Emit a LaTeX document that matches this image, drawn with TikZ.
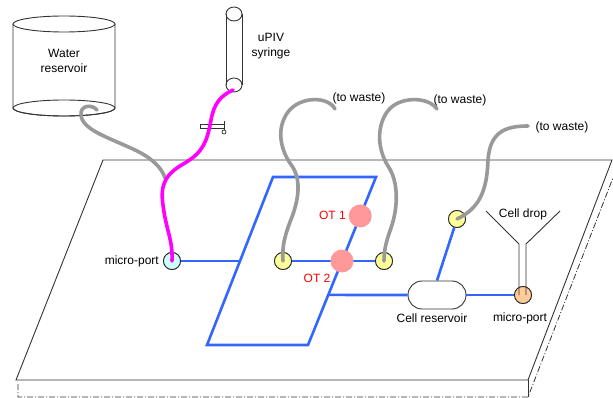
\documentclass[tikz,border=0pt]{standalone}
\usepackage{fontspec}
\setmainfont{Liberation Sans}
\usetikzlibrary{calc}
\definecolor{chan}{RGB}{51,102,255}
\definecolor{tubegray}{RGB}{153,153,153}
\definecolor{feedmag}{RGB}{255,0,255}
\definecolor{otpink}{RGB}{255,153,153}
\definecolor{otred}{RGB}{255,0,0}
\definecolor{portcyan}{RGB}{204,255,255}
\definecolor{portyellow}{RGB}{255,255,153}
\definecolor{portorange}{RGB}{255,204,153}
\definecolor{edge}{RGB}{51,51,51}
\begin{document}
\begin{tikzpicture}[x=1pt,y=-1pt,
  lbl/.style={font=\fontsize{12}{15}\selectfont, inner sep=0, align=center},
  otlbl/.style={lbl, text=otred},
  port/.style={circle, draw=black!85, line width=0.8pt, minimum size=17pt, inner sep=0},
  otspot/.style={circle, fill=otpink, minimum size=23pt, inner sep=0},
  channel/.style={draw=chan, line width=2.6pt},
  tube/.style={draw=tubegray, line width=3.6pt, line cap=round},
  feed/.style={draw=feedmag, line width=3.6pt, line cap=round},
  outline/.style={draw=edge, line width=0.9pt},
  hidden/.style={draw=edge, line width=0.8pt, dash pattern=on 6pt off 2pt on 1pt off 2pt}]
\useasboundingbox (0,0) rectangle (613,398);

% ---- chip plate (top face, front side, hidden edges) ----
\coordinate (tl) at (103,160);
\coordinate (tr) at (612,160);
\coordinate (br) at (528,380);
\coordinate (bl) at (16,380);
\fill[white] (tl) -- (tr) -- (br) -- (bl) -- cycle;
\draw[outline] (tl) -- (tr) -- (br) -- (bl) -- cycle;
\draw[outline] (br) -- (528,397);
\draw[hidden] (18,384) -- (18,397) -- (528,397) -- (616,170);

% ---- channel network ----
\coordinate (pA) at (273,177);
\coordinate (pB) at (376,177);
\coordinate (pC) at (308,345);
\coordinate (pD) at (207,345);
\coordinate (jL) at ($(pA)!0.5!(pD)$);
\coordinate (jR) at ($(pB)!0.5!(pC)$);
\coordinate (jOT) at ($(pB)!0.232!(pC)$);
\coordinate (jLow) at ($(pB)!0.702!(pC)$);

\node[port, fill=portcyan] (mpL) at (172,261) {};
\node[port, fill=portyellow] (ya) at (283,261) {};
\node[port, fill=portyellow] (yb) at (384,261) {};
\node[port, fill=portyellow] (yc) at (457,219) {};
\node[port, fill=portorange] (mpR) at (523,295) {};
\node[draw=edge, line width=0.9pt, fill=white, rounded corners=14pt,
      minimum width=58pt, minimum height=28pt, inner sep=0] (cres) at (437,295) {};

\draw[channel] (pA) -- (pB) -- (pC) -- (pD) -- cycle;
\draw[channel] (mpL) -- (jL);
\draw[channel] (ya) -- (yb);
\draw[channel] (jLow) -- (cres.west);
\draw[channel] (cres.east) -- (mpR);
\draw[channel] (cres.north) -- (yc);

% redraw ports on top of the channels
\node[port, fill=portcyan] at (mpL) {};
\node[port, fill=portyellow] at (ya) {};
\node[port, fill=portyellow] at (yb) {};
\node[port, fill=portyellow] at (yc) {};
\node[port, fill=portorange] at (mpR) {};

% optical trap spots
\node[otspot] (ot1) at (jOT) {};
\node[otspot] (ot2) at (jR) {};
\node[otlbl, anchor=east] (ot1lbl) at (346,215) {OT 1};
\node[otlbl] (ot2lbl) at (317,278) {OT 2};

% labels on the chip
\node[lbl, anchor=east] (mpLlbl) at (159,261) {micro-port};
\node[lbl] (creslbl) at (432,318) {Cell reservoir};
\node[lbl] (mpRlbl) at (520,318) {micro-port};
\node[lbl] (droplbl) at (523,214) {Cell drop};

% cell drop funnel
\draw[outline] (486,211) -- (519,244) -- ($(mpR.center)+(-4,0)$);
\draw[outline] (560,211) -- (526,244) -- ($(mpR.center)+(3,0)$);

% ---- water reservoir ----
\draw[outline, fill=white] (13,24) -- (13,108) arc[start angle=180, end angle=360, x radius=51, y radius=-8] -- (115,24);
\draw[outline] (64,108) ellipse[x radius=51, y radius=8];
\draw[outline] (64,24) ellipse[x radius=51, y radius=8];
\node[lbl] (wres) at (64,61) {Water\\reservoir};

% ---- uPIV syringe ----
\draw[outline] (226,14) -- (226,85);
\draw[outline] (242,14) -- (242,85);
\draw[outline] (234,14) ellipse[x radius=8, y radius=7];
\draw[outline] (234,85) ellipse[x radius=8, y radius=7];
\coordinate (syr) at (233,90);
\node[lbl] (syrlbl) at (271,46) {uPIV\\syringe};

% pinch valve on the feed line
\draw[edge, line width=0.7pt, fill=white] (200,124) rectangle (224,128);
\draw[edge, line width=0.7pt] (224,121) -- (224,130);
\draw[edge, line width=0.7pt, fill=white] (224,132) circle[radius=2];

% ---- tubing ----
\coordinate (resout) at (97,110);
\coordinate (merge) at (165,178);
\draw[tube] (resout) .. controls (92,104) and (80,105) .. (81,115)
  .. controls (82,130) and (110,138) .. (135,150)
  .. controls (152,158) and (162,168) .. (merge);

\draw[feed] (syr) .. controls (220,96) and (214,104) .. (211,120)
  .. controls (207,142) and (203,152) .. (185,163)
  .. controls (165,174) and (160,185) .. (163,205)
  .. controls (166,230) and (173,240) .. (mpL.center);

\coordinate (w1) at (335,109);
\coordinate (w2) at (437,109);
\coordinate (w3) at (528,126);
\draw[tube] (w1) .. controls (328,96) and (300,96) .. (288,112)
  .. controls (276,128) and (280,150) .. (292,166)
  .. controls (303,182) and (297,205) .. (290,222)
  .. controls (284,238) and (282,248) .. (ya.center);
\draw[tube] (w2) .. controls (428,96) and (398,96) .. (387,112)
  .. controls (376,128) and (378,150) .. (388,166)
  .. controls (399,182) and (398,208) .. (391,228)
  .. controls (386,242) and (384,250) .. (yb.center);
\draw[tube] (w3) .. controls (505,126) and (490,132) .. (488,160)
  .. controls (487,190) and (480,208) .. (yc.center);

\node[lbl] (waste1) at (359,98) {(to waste)};
\node[lbl] (waste2) at (460,100) {(to waste)};
\node[lbl] (waste3) at (562,127) {(to waste)};
\end{tikzpicture}
\end{document}
